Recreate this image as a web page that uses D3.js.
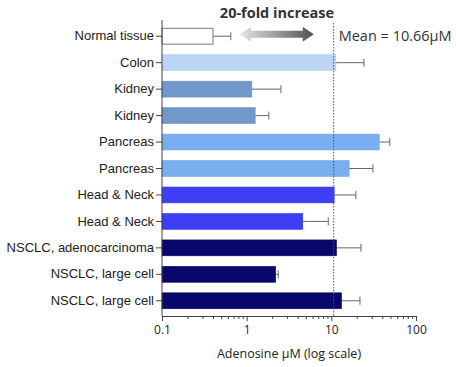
<!DOCTYPE html>
<html>
<head>
<meta charset="utf-8">
<script src="https://cdn.jsdelivr.net/npm/d3@7"></script>
<style>
body { margin: 0; background: #fff; }
text { font-family: "Liberation Sans", Arial, sans-serif; fill: #222; }
.axis path, .axis line { stroke: #444; }
</style>
</head>
<body>
<div id="chart"></div>
<script>
// data
var tissues = ["Normal tissue", "Colon", "Kidney", "Kidney", "Pancreas", "Pancreas",
	"Head & Neck", "Head & Neck", "NSCLC, adenocarcinoma", "NSCLC, large cell", "NSCLC, large cell"];
var means = [0.4, 11.3, 1.15, 1.26, 36.8, 16.2, 10.8, 4.6, 11.5, 2.2, 13.2];
var errTop = [0.65, 24.3, 2.54, 1.83, 49, 31, 19.5, 9.2, 22.4, 2.36, 21.8];
var barColors = ["#ffffff", "#bdd5f5", "#7197cb", "#7197cb", "#79aef0", "#79aef0",
	"#3e3ef4", "#3e3ef4", "#08086c", "#08086c", "#08086c"];
var tickValues = [0.1, 1, 10, 100];
var overallMean = 10.66;

var margin = {top: 20, right: 40, bottom: 51, left: 162};
var width = 456 - margin.left - margin.right,
	height = 367 - margin.top - margin.bottom;

var svg = d3.select("#chart")
	.append("svg")
	.attr("width", 456)
	.attr("height", 367);

var g = svg.append("g")
	.attr("transform", "translate(" + margin.left + "," + margin.top + ")");

var xscale = d3.scaleLog()
	.domain([0.1, 100])
	.range([0, 254]);

var yscale = d3.scaleBand()
	.domain(d3.range(tissues.length))
	.range([3, 294])
	.paddingInner(0.4)
	.paddingOuter(0.2);

var rows = tissues.map(function(t, i){
	return {name: t, value: means[i], err: errTop[i], color: barColors[i], i: i};
});

// gradient for the arrow
var grad = svg.append("defs").append("linearGradient")
	.attr("id", "arrowGrad")
	.attr("x1", "0%").attr("x2", "100%");
grad.append("stop").attr("offset", "0%").attr("stop-color", "#e6e6e6");
grad.append("stop").attr("offset", "100%").attr("stop-color", "#505050");

// error bars first, bars over them
g.selectAll(".err")
	.data(rows)
	.enter()
	.append("line")
		.attr("class", "err")
		.attr("x1", function(d){ return xscale(d.value); })
		.attr("x2", function(d){ return xscale(d.err); })
		.attr("y1", function(d){ return yscale(d.i) + yscale.bandwidth() / 2; })
		.attr("y2", function(d){ return yscale(d.i) + yscale.bandwidth() / 2; })
		.attr("stroke", "#666")
		.attr("stroke-width", 1);

g.selectAll(".cap")
	.data(rows)
	.enter()
	.append("line")
		.attr("class", "cap")
		.attr("x1", function(d){ return xscale(d.err); })
		.attr("x2", function(d){ return xscale(d.err); })
		.attr("y1", function(d){ return yscale(d.i) + yscale.bandwidth() / 2 - 4; })
		.attr("y2", function(d){ return yscale(d.i) + yscale.bandwidth() / 2 + 4; })
		.attr("stroke", "#666")
		.attr("stroke-width", 1);

g.selectAll(".tissueBar")
	.data(rows)
	.enter()
	.append("rect")
		.attr("class", "tissueBar")
		.attr("x", 0)
		.attr("y", function(d){ return yscale(d.i); })
		.attr("height", yscale.bandwidth())
		.attr("width", function(d){ return xscale(d.value); })
		.attr("fill", function(d){ return d.color; })
		.attr("stroke", function(d){ return d.i === 0 ? "#777" : d3.color(d.color).darker(0.15); })
		.attr("stroke-width", function(d){ return d.i === 0 ? 1 : 0.6; });

// mean line
g.append("line")
	.attr("x1", xscale(overallMean))
	.attr("x2", xscale(overallMean))
	.attr("y1", 3)
	.attr("y2", height)
	.attr("stroke", "#555")
	.attr("stroke-width", 1)
	.attr("stroke-dasharray", "1.5,1.5");

g.append("text")
	.attr("x", xscale(overallMean) + 5)
	.attr("y", yscale(0) + yscale.bandwidth() / 2 + 5)
	.style("font-family", "'Open Sans', sans-serif")
	.style("font-size", "14.5px")
	.style("fill", "#333")
	.text("Mean = 10.66μM");

// double-headed arrow between the normal value and the mean
var ay = yscale(0) + yscale.bandwidth() / 2 - 2;
var ax0 = xscale(0.83), ax1 = xscale(6.2);
var arrowPts = [
	[ax0, ay], [ax0 + 11, ay - 7.5], [ax0 + 11, ay - 3.5], [ax1 - 11, ay - 3.5],
	[ax1 - 11, ay - 7.5], [ax1, ay], [ax1 - 11, ay + 7.5], [ax1 - 11, ay + 3.5],
	[ax0 + 11, ay + 3.5], [ax0 + 11, ay + 7.5]
];
g.append("polygon")
	.attr("points", arrowPts.map(function(p){ return p.join(","); }).join(" "))
	.attr("fill", "url(#arrowGrad)");

g.append("text")
	.attr("x", 115)
	.attr("y", -2)
	.attr("text-anchor", "middle")
	.style("font-family", "'Open Sans', sans-serif")
	.style("font-weight", "bold")
	.style("font-size", "14.5px")
	.style("fill", "#333")
	.text("20-fold increase");

// axes
var yAxis = d3.axisLeft(yscale)
	.tickFormat(function(i){ return tissues[i]; })
	.tickSize(6)
	.tickSizeOuter(0);

var yGroup = g.append("g")
	.attr("class", "axis y-axis")
	.call(yAxis);
yGroup.select(".domain").attr("d", "M0,0V" + height);
yGroup.selectAll("text")
	.style("font-size", "13px")
	.attr("x", -8);

var minorTicks = [];
[0.1, 1, 10].forEach(function(base){
	for (var k = 2; k <= 9; k++) minorTicks.push(base * k);
});

var xMinor = d3.axisBottom(xscale)
	.tickValues(minorTicks)
	.tickSize(3)
	.tickFormat("");

var xAxis = d3.axisBottom(xscale)
	.tickValues(tickValues)
	.tickFormat(function(d){ return d; })
	.tickSize(5)
	.tickSizeOuter(0);

g.append("g")
	.attr("class", "axis x-minor")
	.attr("transform", "translate(0," + height + ")")
	.call(xMinor)
	.select(".domain").remove();

var xGroup = g.append("g")
	.attr("class", "axis x-axis")
	.attr("transform", "translate(0," + height + ")")
	.call(xAxis);
xGroup.selectAll("text")
	.style("font-family", "'Open Sans', sans-serif")
	.style("font-size", "12px")
	.attr("y", 9);

g.append("text")
	.attr("x", 127)
	.attr("y", height + 42)
	.attr("text-anchor", "middle")
	.style("font-family", "'Open Sans', sans-serif")
	.style("font-size", "12.5px")
	.text("Adenosine μM (log scale)");
</script>
</body>
</html>
